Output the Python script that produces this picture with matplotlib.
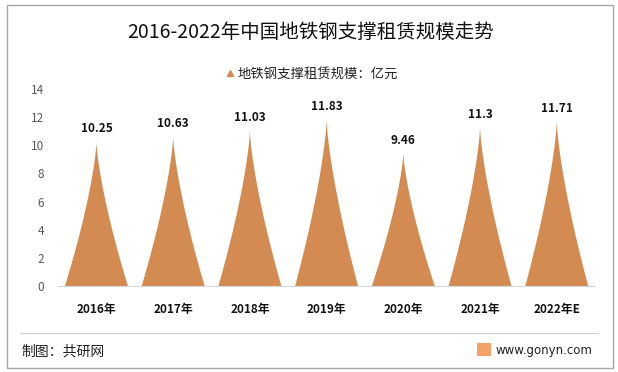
import numpy as np
import matplotlib.pyplot as plt
from matplotlib.patches import Polygon, Rectangle
from matplotlib.lines import Line2D

plt.rcParams['font.family'] = ['Noto Sans CJK SC', 'DejaVu Sans']

years = ['2016年', '2017年', '2018年', '2019年', '2020年', '2021年', '2022年E']
values = [10.25, 10.63, 11.03, 11.83, 9.46, 11.3, 11.71]
value_labels = ['10.25', '10.63', '11.03', '11.83', '9.46', '11.3', '11.71']

color = '#D38B52'

fig = plt.figure(figsize=(6.18, 3.72), dpi=100)
ax = fig.add_axes([0.094, 0.2312, 0.869, 0.5296])

# spike-shaped bars (concave sides, sharp tip)
w = 0.41
t = np.linspace(0, 1, 80)
for i, v in enumerate(values):
    half = w * (1 - t) ** 1.4
    xs = np.concatenate([i - half, (i + half)[::-1]])
    ys = np.concatenate([t * v, (t * v)[::-1]])
    ax.add_patch(Polygon(np.column_stack([xs, ys]), closed=True,
                         facecolor=color, edgecolor='none'))
    ax.text(i, v + 0.45, value_labels[i], ha='center', va='bottom',
            fontsize=8.5, fontweight='bold', color='#111111')

ax.set_xlim(-0.5, 6.5)
ax.set_ylim(0, 14)
ax.set_yticks(range(0, 15, 2))
ax.set_xticks(range(len(years)))
ax.set_xticklabels(years, fontsize=8.5, fontweight='bold', color='#111111')
ax.tick_params(axis='x', length=0, pad=12)
ax.tick_params(axis='y', length=0, pad=10, labelsize=8.5, labelcolor='#595959')
for s in ['top', 'right', 'left']:
    ax.spines[s].set_visible(False)
ax.spines['bottom'].set_color('#D9D9D9')

fig.text(0.503, 0.912, '2016-2022年中国地铁钢支撑租赁规模走势', ha='center', va='center',
         fontsize=14, color='#111111')
fig.text(0.515, 0.803, '地铁钢支撑租赁规模：亿元', ha='center', va='center',
         fontsize=9.6, color='#222222')
fig.add_artist(Line2D([0.372], [0.805], marker='^', markersize=5, color=color,
                      transform=fig.transFigure))

# frame and footer
fig.add_artist(Rectangle((0.011, 0.011), 0.981, 0.975, transform=fig.transFigure,
                         fill=False, edgecolor='#A6A6A6', linewidth=1))
fig.add_artist(Line2D([0.032, 0.968], [0.105, 0.105], color='#D0D0D0', linewidth=0.8,
                      transform=fig.transFigure))
fig.text(0.035, 0.055, '制图：共研网', ha='left', va='center', fontsize=10, color='#222222')
fig.text(0.958, 0.058, 'www.gonyn.com', ha='right', va='center', fontsize=8.5,
         color='#222222', family='DejaVu Sans')
fig.add_artist(Rectangle((0.772, 0.043), 0.022, 0.035, transform=fig.transFigure,
                         facecolor='#F4A26A', edgecolor='none'))

fig.savefig('out.png', dpi=100)
